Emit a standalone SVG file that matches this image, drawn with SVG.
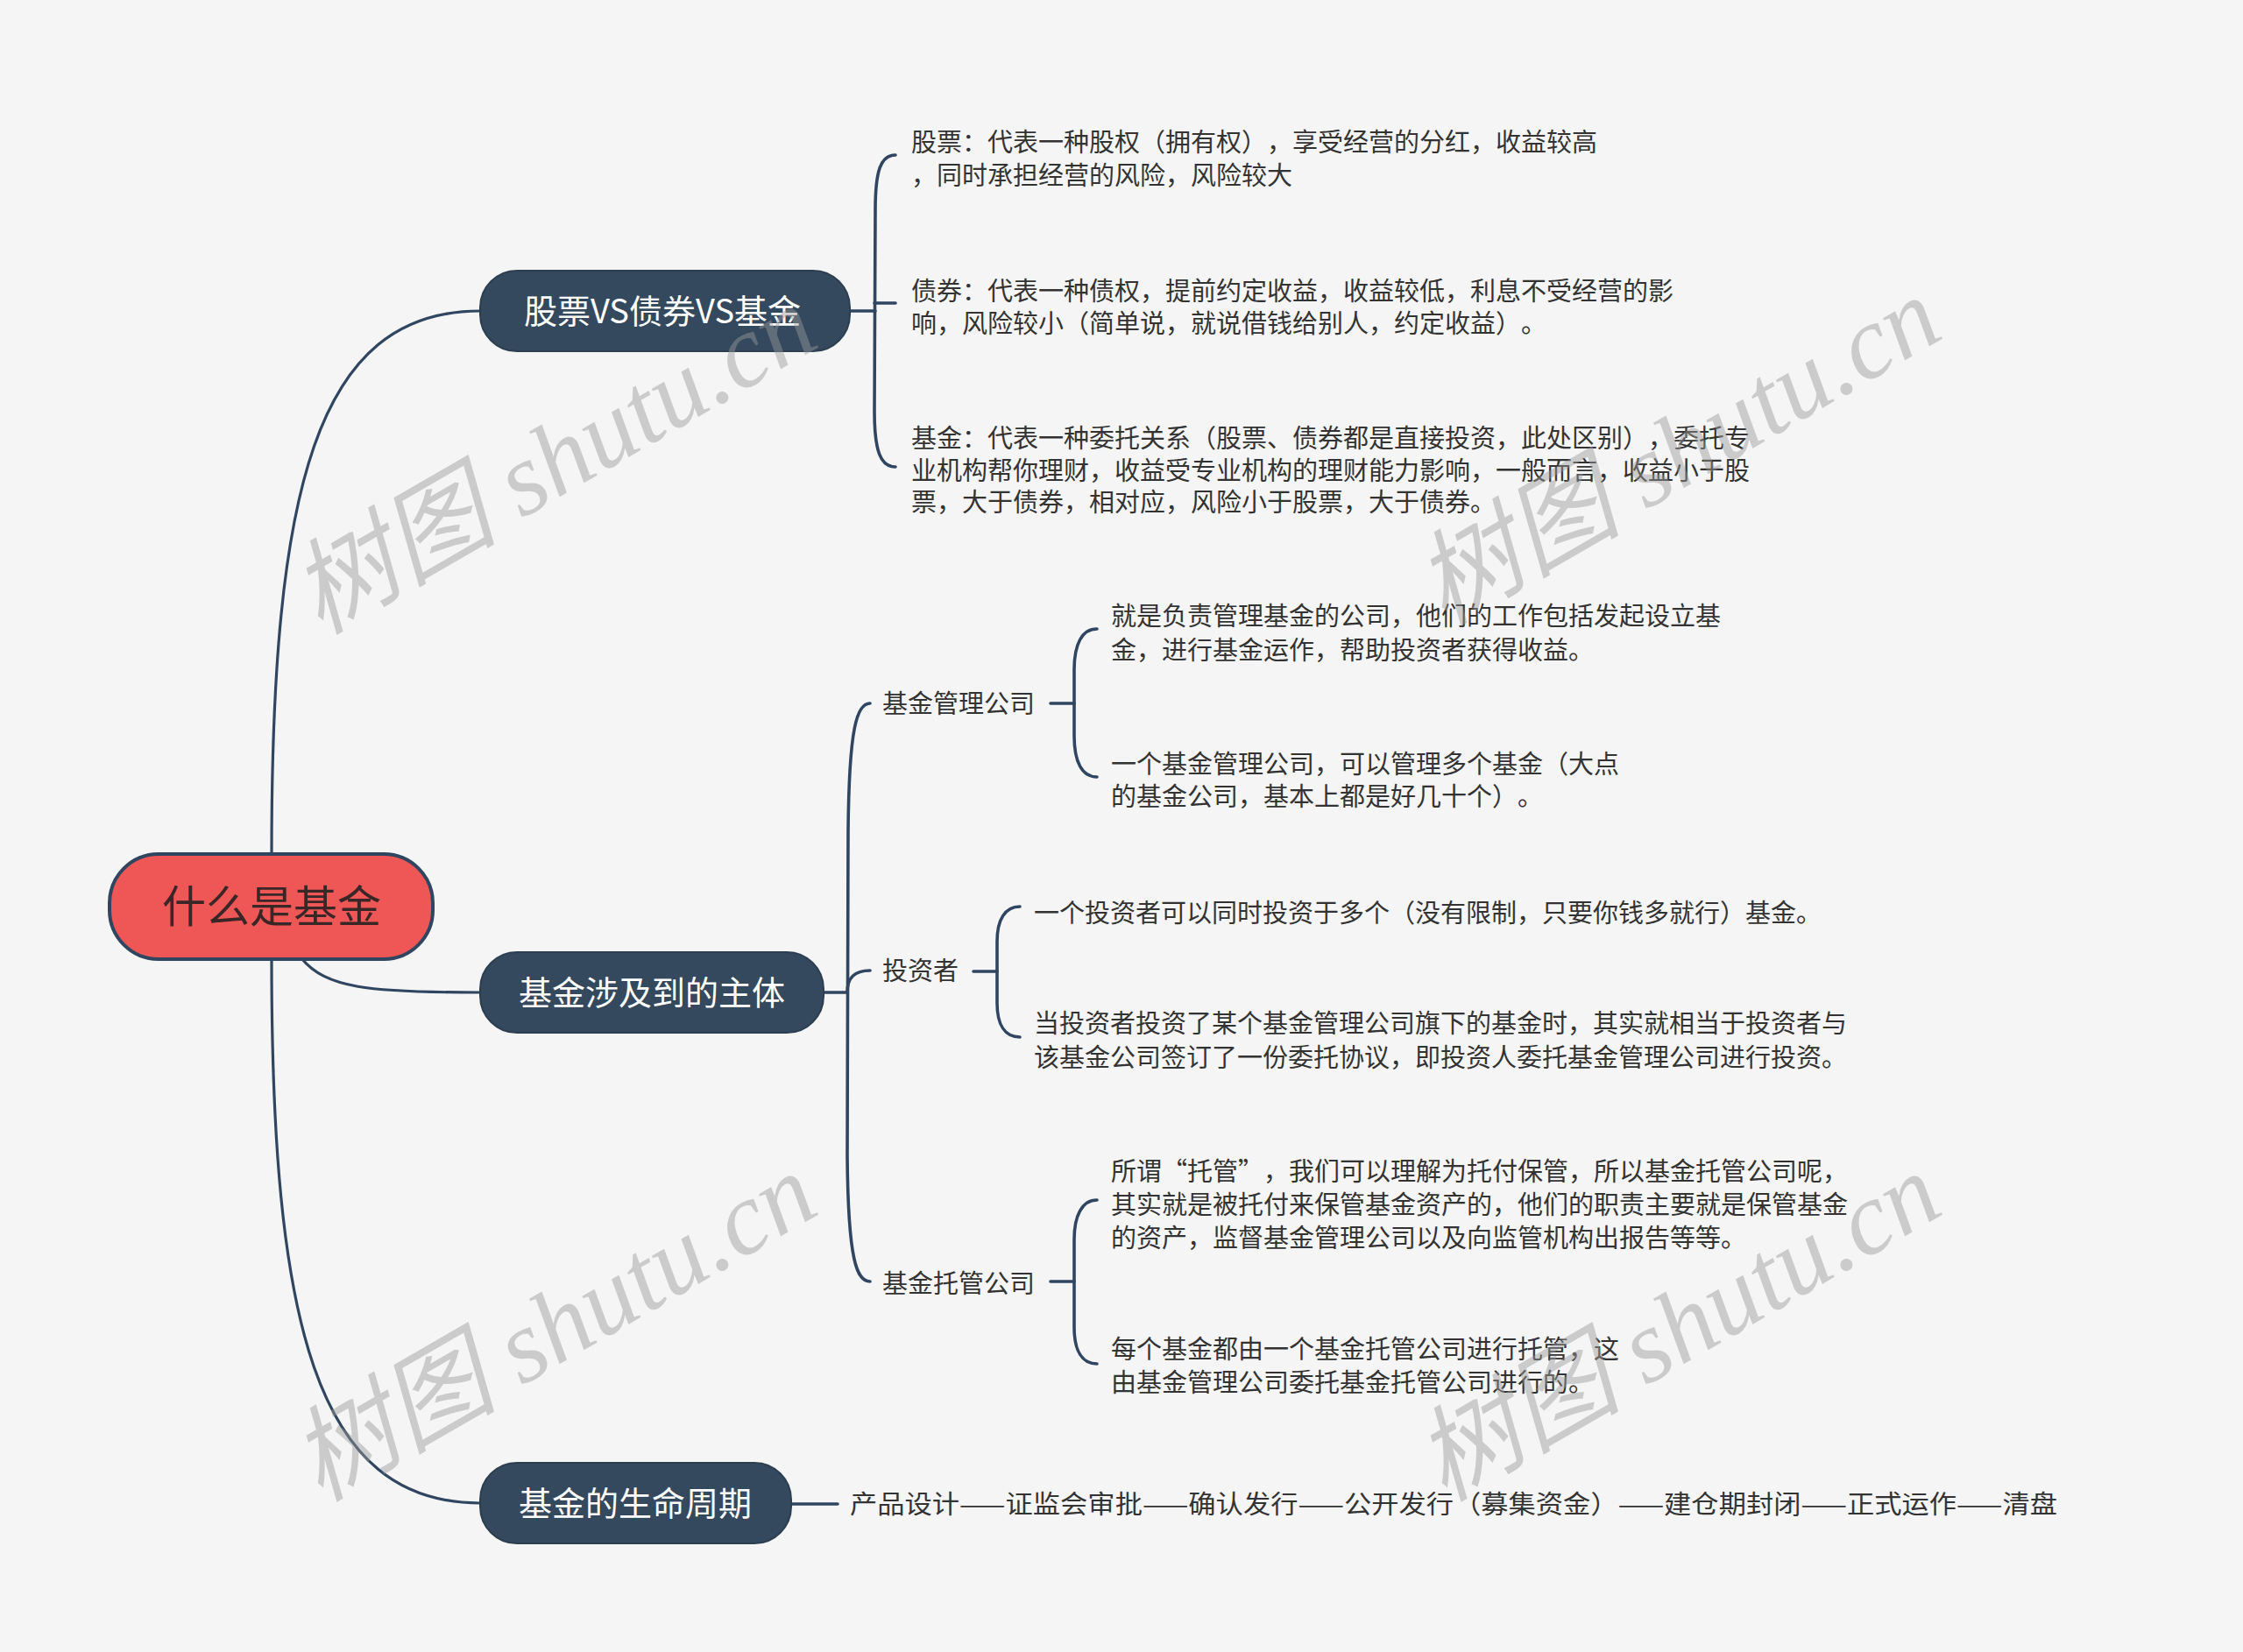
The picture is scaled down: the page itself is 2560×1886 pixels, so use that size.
<svg xmlns="http://www.w3.org/2000/svg" width="2560" height="1886" viewBox="0 0 2560 1886">
<style>
.bg{fill:#f5f5f5}
.ln{fill:none;stroke:#2f4560;stroke-width:3.2;stroke-linecap:round}
.br{fill:none;stroke:#2f4560;stroke-width:3.6;stroke-linecap:round}
.root{fill:#ef5656;stroke:#2f4560;stroke-width:4}
.main{fill:#34495e;stroke:#2c3e50;stroke-width:2}
.t{font-family:"Noto Sans CJK SC","Noto Sans",sans-serif;text-spacing-trim:space-all;font-feature-settings:"halt" 0,"palt" 0}
.rt{font-size:50px;fill:#3a2626;text-anchor:middle}
.mt{font-size:38px;fill:#ffffff;text-anchor:middle}
.st{font-size:29px;fill:#333333}
.wm{font-family:"Liberation Serif","Noto Sans CJK SC",serif;font-style:italic;font-size:118px;fill:#999999;fill-opacity:0.45;text-anchor:middle}
</style>
<rect class="bg" x="0" y="0" width="2560" height="1886"/>

<g id="connectors">
  <path class="ln" d="M310,976 C310,560 360,355 548,355"/>
  <path class="ln" d="M344,1094 C372,1128 420,1133 548,1133"/>
  <path class="ln" d="M310,1094 C310,1510 360,1716 548,1716"/>
  <path class="br" d="M970,355 L999,355"/>
  <path class="br" d="M1022,177 C1005,177 999,195 999,240 L998,470 C998,515 1005,533 1022,533"/>
  <path class="br" d="M998,346 L1022,346"/>
  <path class="br" d="M940,1133 L967,1133"/>
  <path class="br" d="M993,803 C978,803 969,830 968,950 L967,1320 C968,1440 978,1463 993,1463"/>
  <path class="br" d="M967,1133 C967,1116 975,1108 993,1108"/>
  <path class="br" d="M1199,803 L1226,803"/>
  <path class="br" d="M1252,718 C1235,718 1226,735 1226,765 L1226,840 C1226,870 1235,887 1252,887"/>
  <path class="br" d="M1111,1109 L1138,1109"/>
  <path class="br" d="M1164,1035 C1147,1035 1138,1050 1138,1075 L1138,1145 C1138,1170 1147,1184 1164,1184"/>
  <path class="br" d="M1199,1463 L1226,1463"/>
  <path class="br" d="M1252,1370 C1235,1370 1226,1388 1226,1415 L1226,1515 C1226,1542 1235,1557 1252,1557"/>
  <path class="br" d="M903,1717 L956,1717"/>
</g>

<g id="root">
  <rect class="root" x="125" y="975" width="369" height="120" rx="56" ry="56"/>
  <text class="t rt" x="310" y="1053">什么是基金</text>
</g>

<g id="n-compare">
  <rect class="main" x="548" y="309" width="422" height="92" rx="42" ry="42"/>
  <text class="t mt" x="756" y="369">股票VS债券VS基金</text>
</g>
<g id="n-subjects">
  <rect class="main" x="548" y="1087" width="392" height="92" rx="42" ry="42"/>
  <text class="t mt" x="744" y="1147">基金涉及到的主体</text>
</g>
<g id="n-lifecycle">
  <rect class="main" x="548" y="1670" width="355" height="92" rx="42" ry="42"/>
  <text class="t mt" x="725" y="1730">基金的生命周期</text>
</g>

<g id="n-stock">
  <text class="t st" x="1040" y="173">股票：代表一种股权（拥有权），享受经营的分红，收益较高</text>
  <text class="t st" x="1040" y="211">，同时承担经营的风险，风险较大</text>
</g>
<g id="n-bond">
  <text class="t st" x="1040" y="343">债券：代表一种债权，提前约定收益，收益较低，利息不受经营的影</text>
  <text class="t st" x="1040" y="380">响，风险较小（简单说，就说借钱给别人，约定收益）。</text>
</g>
<g id="n-fund">
  <text class="t st" x="1040" y="511">基金：代表一种委托关系（股票、债券都是直接投资，此处区别），委托专</text>
  <text class="t st" x="1040" y="548">业机构帮你理财，收益受专业机构的理财能力影响，一般而言，收益小于股</text>
  <text class="t st" x="1040" y="584">票，大于债券，相对应，风险小于股票，大于债券。</text>
</g>

<g id="n-mgmt">
  <text class="t st" x="1007" y="814">基金管理公司</text>
</g>
<g id="n-mgmt-1">
  <text class="t st" x="1268" y="714">就是负责管理基金的公司，他们的工作包括发起设立基</text>
  <text class="t st" x="1268" y="753">金，进行基金运作，帮助投资者获得收益。</text>
</g>
<g id="n-mgmt-2">
  <text class="t st" x="1268" y="883">一个基金管理公司，可以管理多个基金（大点</text>
  <text class="t st" x="1268" y="920">的基金公司，基本上都是好几十个）。</text>
</g>

<g id="n-investor">
  <text class="t st" x="1007" y="1119">投资者</text>
</g>
<g id="n-investor-1">
  <text class="t st" x="1180" y="1053">一个投资者可以同时投资于多个（没有限制，只要你钱多就行）基金。</text>
</g>
<g id="n-investor-2">
  <text class="t st" x="1180" y="1179">当投资者投资了某个基金管理公司旗下的基金时，其实就相当于投资者与</text>
  <text class="t st" x="1180" y="1218">该基金公司签订了一份委托协议，即投资人委托基金管理公司进行投资。</text>
</g>

<g id="n-custody">
  <text class="t st" x="1007" y="1476">基金托管公司</text>
</g>
<g id="n-custody-1">
  <text class="t st" x="1268" y="1348">所谓“托管”，我们可以理解为托付保管，所以基金托管公司呢，</text>
  <text class="t st" x="1268" y="1386">其实就是被托付来保管基金资产的，他们的职责主要就是保管基金</text>
  <text class="t st" x="1268" y="1424">的资产，监督基金管理公司以及向监管机构出报告等等。</text>
</g>
<g id="n-custody-2">
  <text class="t st" x="1268" y="1551">每个基金都由一个基金托管公司进行托管，这</text>
  <text class="t st" x="1268" y="1589">由基金管理公司委托基金托管公司进行的。</text>
</g>

<g id="n-lifecycle-steps">
  <text class="t st" x="970" y="1728" textLength="1378" lengthAdjust="spacingAndGlyphs">产品设计——证监会审批——确认发行——公开发行（募集资金）——建仓期封闭——正式运作——清盘</text>
</g>

<g id="watermarks">
  <text class="wm" transform="translate(632,525) rotate(-30)" x="0" y="40">树图 shutu.cn</text>
  <text class="wm" transform="translate(1915,515) rotate(-30)" x="0" y="40">树图 shutu.cn</text>
  <text class="wm" transform="translate(632,1515) rotate(-30)" x="0" y="40">树图 shutu.cn</text>
  <text class="wm" transform="translate(1915,1515) rotate(-30)" x="0" y="40">树图 shutu.cn</text>
</g>
</svg>
